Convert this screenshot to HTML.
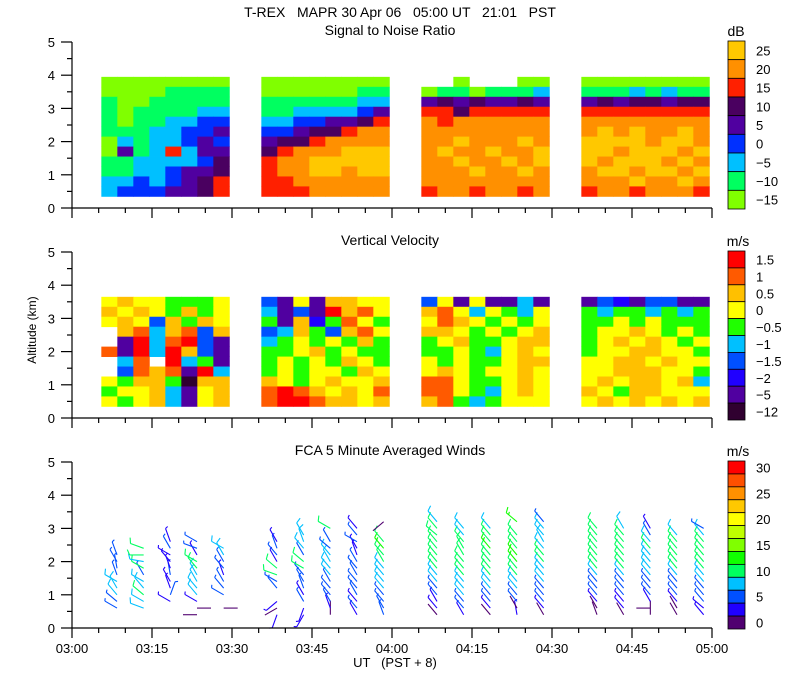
<!DOCTYPE html>
<html><head><meta charset="utf-8"><style>
html,body{margin:0;padding:0;background:#fff;}
svg{display:block;font-family:"Liberation Sans",sans-serif;}
text{white-space:pre;}
</style></head><body>
<svg id="c" width="800" height="700" viewBox="0 0 800 700">
<rect width="800" height="700" fill="#fff"/>
<text x="400" y="17" font-size="14" text-anchor="middle" xml:space="preserve">T-REX   MAPR 30 Apr 06   05:00 UT   21:01   PST</text>
<text x="390" y="35" font-size="14" text-anchor="middle">Signal to Noise Ratio</text>
<text x="390" y="245" font-size="14" text-anchor="middle">Vertical Velocity</text>
<text x="390" y="455" font-size="14" text-anchor="middle">FCA 5 Minute Averaged Winds</text>
<text x="36" y="330" font-size="12" text-anchor="middle" transform="rotate(-90 36 330)">Altitude (km)</text>
<text x="395" y="667" font-size="13" text-anchor="middle" xml:space="preserve">UT   (PST + 8)</text>
<text x="736" y="36" font-size="14" text-anchor="middle">dB</text>
<text x="738" y="246" font-size="14" text-anchor="middle">m/s</text>
<text x="738" y="456" font-size="14" text-anchor="middle">m/s</text>
<g id="layer"></g>
</svg>
<script>
// ---- data ----
const segTimes = [[5.5,29.5],[35.5,59.5],[65.5,89.5],[95.5,119.5]];
const snrAlts = [3.8,3.5,3.2,2.9,2.6,2.3,2.0,1.7,1.4,1.1,0.8,0.5];
const snrSeg1 = [
[-15,-15,-15,-15,-15,-15,-15,-15],[-15,-15,-15,-15,-10,-10,-10,-10],[-10,-15,-15,-10,-10,-10,-10,-10],
[-10,-15,-10,-10,-10,-10,-5,-5],[-10,-15,-10,-10,-5,-5,0,0],[-10,-10,-10,-5,-5,0,0,5],
[-15,-5,-10,-5,-5,0,5,0],[-15,5,-10,-5,15,-5,5,5],[-10,-10,-5,-5,-5,-5,0,10],
[-10,-10,-5,-5,0,5,5,10],[-5,-5,0,-5,0,5,10,15],[-5,0,0,0,5,5,10,15]];
const snrSeg2 = [
[-15,-15,-15,-15,-15,-15,-15,-15],[-15,-15,-15,-15,-15,-15,-10,-10],[-10,-10,-10,-10,-10,-10,-5,-5],
[-10,-10,-5,-5,-5,-5,0,5],[-5,-5,0,0,5,5,10,15],[0,0,5,10,10,15,20,20],
[5,10,10,15,20,20,20,20],[10,15,20,20,20,25,25,25],[15,20,20,25,25,25,25,25],
[15,20,20,25,25,20,25,25],[15,15,20,20,20,20,20,20],[15,15,15,20,20,20,20,20]];
const snrSeg3 = [
[null,null,-15,null,null,null,-15,-15],[-15,-10,-10,-15,-10,-10,-10,-5],[5,10,5,10,5,5,10,5],
[15,15,10,15,15,15,15,15],[20,15,20,20,20,20,20,20],[20,20,20,20,20,20,20,20],
[20,20,25,20,20,20,25,20],[20,25,20,20,25,20,20,25],[20,20,25,20,20,25,20,25],
[20,20,20,25,20,20,25,20],[20,20,20,20,20,20,20,20],[15,20,20,15,20,20,15,20]];
const snrSeg4 = [
[-15,-15,-15,-15,-15,-15,-15,-15],[-10,-10,-10,-5,-10,-5,-10,-10],[5,10,5,10,10,5,10,10],
[15,15,15,15,15,15,15,15],[20,20,20,20,20,20,20,20],[20,25,20,25,20,20,25,20],
[25,25,25,25,20,25,25,20],[25,25,20,25,25,25,20,25],[25,20,25,25,25,20,25,20],
[20,25,25,20,25,25,20,25],[20,20,20,25,20,20,25,20],[15,20,20,15,20,20,20,15]];
const velAlts = [3.5,3.2,2.9,2.6,2.3,2.0,1.7,1.4,1.1,0.8,0.5];
const velSeg1 = [
[0,0.5,0,0,-0.5,-0.5,-0.5,0],[0.5,0,0.5,0,-0.5,0.5,-0.5,0],[0,0.5,0,-1.5,0.5,-0.5,0.5,0],
[null,0.5,1,-1,0.5,1,-1.5,0.5],[null,-5,1.5,-1,1,1.5,-1.5,-5],[1,-5,1.5,-1,1.5,0.5,-1.5,-5],
[null,-1,1,null,1.5,-1,-0.5,-5],[null,-1.5,1,0.5,1,-5,1.5,-1],[0,-0.5,0.5,0.5,-0.5,-12,0.5,0.5],
[-0.5,0,0,0.5,-1,-5,0,0.5],[0,-0.5,0,0.5,-1,-5,0,0.5]];
const velSeg2 = [
[-1.5,-5,0,-5,0.5,0.5,0,0],[-1,-5,-1.5,-5,1.5,0.5,1,0],[-0.5,-5,0.5,-2,-0.5,1,0,-0.5],
[-1.5,-1,0.5,-0.5,-1.5,0.5,1,0],[-1,-0.5,0,-0.5,0,-0.5,0.5,-0.5],[-0.5,-0.5,0,0.5,-0.5,0,-0.5,-0.5],
[-0.5,0,-0.5,0,-0.5,0.5,0,-0.5],[-0.5,0,-0.5,0,0,-0.5,0.5,0],[0.5,0,-0.5,0,0.5,0,0,0.5],
[1,1.5,1,0.5,0,0.5,0,1],[1,1.5,1.5,1,0.5,0.5,0,0.5]];
const velSeg3 = [
[-1.5,0,-5,0,-5,-5,-1,-5],[0.5,1,0,-1,0,-0.5,-1,0],[0,1,0.5,0,-0.5,0,-0.5,0],
[0.5,0.5,0,-0.5,0,-0.5,0,0.5],[-0.5,0,0.5,-0.5,-0.5,0,0.5,0.5],[-0.5,-0.5,0,-0.5,-1,0,0.5,0],
[0,-0.5,0,-0.5,-0.5,0,0.5,0.5],[0,0.5,0,-0.5,0,0,0.5,0],[1,1,0,-0.5,-0.5,0,0.5,0],
[1,1,0,-0.5,-1,0,0.5,0],[0.5,1,-0.5,-1,-0.5,0,0,0]];
const velSeg4 = [
[-5,-1.5,-2,-5,-1.5,-1.5,-5,-5],[-0.5,-1,-0.5,-0.5,-1,-0.5,-1,-0.5],[-0.5,-0.5,0,-0.5,0,-0.5,-0.5,-0.5],
[-0.5,0,0,0.5,0,-0.5,0,-0.5],[-0.5,0,0.5,0,0.5,0,-0.5,0],[-0.5,0,0,0.5,0.5,0,0,-0.5],
[0,0,0.5,0.5,0,0.5,0,0],[0,0,0.5,0.5,0.5,0,0,-0.5],[0,0.5,0,0.5,0.5,0,0.5,-1],
[0.5,0,-0.5,0.5,0.5,0,0,0],[0,0.5,0,0.5,0,0.5,0,0.5]];
const windLevels = [0.4,0.6,0.8,1.0,1.2,1.4,1.6,1.8,2.0,2.2,2.4,2.6,2.8,3.0,3.2,3.4];
const windTimes = [7.5,12.5,17.5,22.5,27.5,37.5,42.5,47.5,52.5,57.5,67.5,72.5,77.5,82.5,87.5,97.5,102.5,107.5,112.5,117.5];
const windSpeeds = [
[null,5,6,8,9,8,7,6,5,5,null,null,null,null,null,null],
[null,8,9,10,8,9,7,10,8,11,12,null,null,null,null,null],
[null,null,4,5,3,4,5,4,3,4,5,4,null,null,null,null],
[1,2,3,8,9,8,9,10,11,4,5,6,null,null,null,null],
[null,2,null,5,6,5,4,6,5,8,9,null,null,null,null,null],
[4,2,3,null,6,7,11,12,4,5,5,4,null,null,null,null],
[3,4,5,4,5,6,6,12,12,5,8,9,8,null,null,null],
[2,4,5,6,7,7,8,8,9,9,7,5,null,12,null,null],
[4,5,4,5,6,7,7,6,5,4,4,7,5,4,null,null],
[5,5,6,7,8,8,9,9,10,12,13,10,null,null,2,null],
[1,3,4,5,6,8,9,10,11,11,12,12,12,11,9,null],
[4,6,7,8,8,9,10,11,11,12,11,10,9,8,null,null],
[2,4,5,7,8,9,10,11,12,12,13,12,11,9,null,null],
[3,2,5,6,8,9,10,12,13,13,12,12,11,null,13,null],
[2,4,5,6,7,8,9,9,10,10,9,8,9,8,7,null],
[1,2,4,5,6,7,8,10,11,12,12,12,11,10,null,null],
[2,3,4,5,6,7,9,10,11,12,12,12,11,9,null,null],
[1,1,3,5,6,7,8,8,9,9,10,9,5,3,null,null],
[2,2,4,5,6,7,8,10,11,11,12,11,9,null,null,null],
[3,4,5,6,7,8,9,10,11,11,10,10,8,5,null,null]];
const windDirs = [
[null,300,310,320,330,300,340,350,330,340,null,null,null,null,null,null],
[null,290,300,310,320,300,330,300,280,270,290,null,null,null,null,null],
[null,null,300,20,340,330,350,340,320,300,330,340,null,null,null,null],
[270,90,300,320,320,330,330,320,300,330,290,300,null,null,null,null],
[null,90,null,300,320,330,340,320,330,330,300,null,null,null,null,null],
[200,240,230,null,320,300,290,310,330,320,340,330,null,null,null,null],
[210,200,330,330,340,330,320,300,310,330,320,340,330,null,null,null],
[0,340,330,320,320,330,320,320,330,320,310,330,null,300,null,null],
[330,320,320,330,320,320,330,320,330,340,330,300,320,320,null,null],
[340,330,320,320,320,320,320,320,330,320,320,320,null,null,230,null],
[320,320,330,320,320,320,320,320,320,320,320,320,310,320,320,null],
[330,320,320,320,320,320,320,320,320,330,330,320,320,320,null,null],
[320,320,320,320,320,320,320,320,320,320,320,320,320,320,null,null],
[350,330,320,320,320,320,320,320,320,320,320,320,320,null,310,null],
[330,320,320,320,320,320,320,320,320,320,320,330,320,320,320,null],
[340,330,320,320,320,320,320,320,320,320,320,320,320,320,null,null],
[330,320,320,320,320,320,320,320,320,320,320,320,320,330,null,null],
[0,270,330,320,320,320,320,320,320,320,320,320,330,330,null,null],
[330,330,320,320,320,320,320,320,320,320,320,320,320,null,null,null],
[320,310,320,320,320,320,320,320,320,320,320,320,320,300,null,null]];
const snrTicks = ["25","20","15","10","5","0","\u22125","\u221210","\u221215"];
const velTicks = ["1.5","1","0.5","0","\u22120.5","\u22121","\u22121.5","\u22122","\u22125","\u221212"];
const velLevels = [1.5,1,0.5,0,-0.5,-1,-1.5,-2,-5,-12];
const windTicks = ["30","25","20","15","10","5","0"];
const xTickLabels = ["03:00","03:15","03:30","03:45","04:00","04:15","04:30","04:45","05:00"];
const yTickLabels = ["0","1","2","3","4","5"];

// ---- colours ----
const snrColors = ['#ffc800','#ff9000','#ff2000','#4a0060','#5000a0','#0030ff','#00c0ff','#00ff60','#80ff00'];
const velColors = ['#ff0000','#ff5a00','#ffc000','#ffff00','#20ff00','#00c0ff','#0050ff','#2000ff','#5000a0','#300030'];
const windColors = ['#ff0000','#ff5000','#ff9000','#ffc800','#ffff00','#c0ff00','#80ff00','#10ff00','#00ff60','#00c0ff','#0050ff','#2000ff','#500070'];

// ---- axes ----
const X0=72, X1=712, T0=0, T1=120;
const panels=[{top:42,bottom:208},{top:252,bottom:418},{top:462,bottom:628}];
function xs(t){return X0+(t-T0)/(T1-T0)*(X1-X0);}
function ys(p,a){return p.bottom-(a/5)*(p.bottom-p.top);}
const NS='http://www.w3.org/2000/svg';
const layer=document.getElementById('layer');
function mk(tag,attrs,parent){const e=document.createElementNS(NS,tag);for(const k in attrs)e.setAttribute(k,attrs[k]);(parent||layer).appendChild(e);return e;}

function snrColor(v){let i=Math.round((25-v)/5);return snrColors[Math.max(0,Math.min(8,i))];}
function velColor(v){let best=0,bd=1e9;velLevels.forEach((l,i)=>{const d=Math.abs(l-v);if(d<bd){bd=d;best=i;}});return velColors[best];}
function windColor(s){let i=12-Math.floor(s/2.5);return windColors[Math.max(0,Math.min(12,i))];}

function heat(p,segs,alts,colorFn,name){
  const g=mk('g',{});
  
  
  segs.forEach((grid,si)=>{
    const [ta,tb]=segTimes[si];const nc=grid[0].length;const dt=(tb-ta)/nc;
    grid.forEach((row,ri)=>{
      row.forEach((v,ci)=>{
        if(v===null)return;
        const xa=xs(ta+ci*dt),xb=xs(ta+(ci+1)*dt);
        const ya=ys(p,alts[ri]+0.15),yb=ys(p,alts[ri]-0.15);
        const r=mk('rect',{x:xa.toFixed(2),y:ya.toFixed(2),width:(xb-xa+0.4).toFixed(2),height:(yb-ya+0.4).toFixed(2),fill:colorFn(v)},g);
        
        
      });
    });
  });
}
heat(panels[0],[snrSeg1,snrSeg2,snrSeg3,snrSeg4],snrAlts,snrColor,'snr-heatmap');
heat(panels[1],[velSeg1,velSeg2,velSeg3,velSeg4],velAlts,velColor,'velocity-heatmap');

// wind barbs
const wg=mk('g',{});


windTimes.forEach((t,pi)=>{
  windLevels.forEach((z,li)=>{
    const s=windSpeeds[pi][li],d=windDirs[pi][li];
    if(s===null||d===null)return;
    const px=xs(t)+5,py=ys(panels[2],z);
    const r=d*Math.PI/180,L=14;
    const ux=Math.sin(r),uy=-Math.cos(r);
    const ex=px+ux*L,ey=py+uy*L;
    const col=windColor(s);
    const b=mk('g',{stroke:col,'stroke-width':'1.1',fill:'none'},wg);
    
    
    mk('line',{x1:px,y1:py,x2:ex,y2:ey},b);
    let rem=Math.round(s/5)*5,pos=0;
    const fx=-uy,fy=ux;
    while(rem>=10){const bx=ex-ux*pos,by=ey-uy*pos;mk('line',{x1:bx,y1:by,x2:bx+(fx*0.9+ux*0.4)*6,y2:by+(fy*0.9+uy*0.4)*6},b);rem-=10;pos+=3;}
    if(rem>=5){const bx=ex-ux*pos,by=ey-uy*pos;mk('line',{x1:bx,y1:by,x2:bx+(fx*0.9+ux*0.4)*3,y2:by+(fy*0.9+uy*0.4)*3},b);}
  });
});

// axes
panels.forEach((p,pi)=>{
  const ax=mk('g',{stroke:'#000','stroke-width':'1.2',fill:'none'});
  
  
  mk('line',{x1:X0,y1:p.top,x2:X0,y2:p.bottom},ax);
  mk('line',{x1:X0,y1:p.bottom,x2:X1,y2:p.bottom},ax);
  for(let a=0;a<=5;a+=0.5){const y=ys(p,a);const major=Math.abs(a-Math.round(a))<0.01;mk('line',{x1:X0-(major?11:5),y1:y,x2:X0,y2:y},ax);}
  for(let t=0;t<=120;t+=5){const x=xs(t);const major=t%15===0;mk('line',{x1:x,y1:p.bottom,x2:x,y2:p.bottom+(major?10:5)},ax);}
  yTickLabels.forEach((lab,i)=>{
    const tx=mk('text',{x:55,y:ys(p,i)+5,'font-size':'13','text-anchor':'end',fill:'#000'});
    tx.textContent=lab;
    
    
  });
});
xTickLabels.forEach((lab,i)=>{
  const tx=mk('text',{x:xs(i*15),y:653,'font-size':'13','text-anchor':'middle',fill:'#000'});
  tx.textContent=lab;
  
  
});

// colorbars
function cbar(top,bottom,colors,ticks,name){
  const g=mk('g',{});
  
  
  const h=(bottom-top)/colors.length;
  colors.forEach((c,i)=>{const r=mk('rect',{x:728,y:top+i*h,width:17,height:h,fill:c,stroke:'#000','stroke-width':'0.8'},g);
    
    });
  const step=(colors.length-1)/(ticks.length-1);
  ticks.forEach((lab,i)=>{
    const cy=top+(i*step+0.5)*h+5;
    const tx=mk('text',{x:756,y:cy,'font-size':'13',fill:'#000'},g);
    tx.textContent=lab;
    
    
  });
}
cbar(41,209,snrColors,snrTicks,'snr-colorbar');
cbar(251,420,velColors,velTicks,'velocity-colorbar');
cbar(461,629,windColors,windTicks,'wind-colorbar');
</script>
</body></html>
